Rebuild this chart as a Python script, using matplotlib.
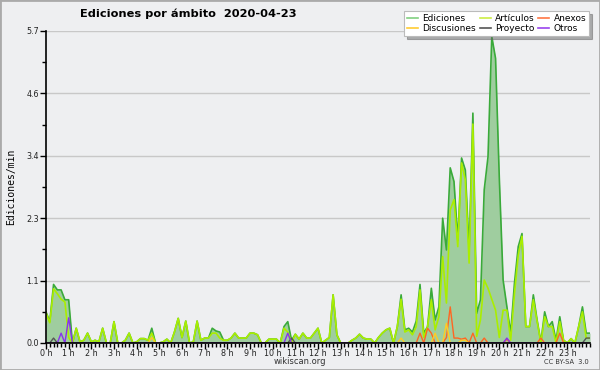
import matplotlib
matplotlib.use("Agg")
import matplotlib.pyplot as plt
from matplotlib.patches import Rectangle
from matplotlib.ticker import FixedLocator, MultipleLocator
import numpy as np

# edits per minute, 10-minute bins (6 per hour)
ediciones = [
    0.57, 0.39, 1.07, 0.97, 0.97, 0.79,
    0.79, 0.0, 0.27, 0.02, 0.05, 0.18,
    0.02, 0.05, 0.02, 0.27, 0.0, 0.0,
    0.39, 0.0, 0.0, 0.05, 0.18, 0.0,
    0.02, 0.08, 0.08, 0.05, 0.27, 0.0,
    0.0, 0.02, 0.07, 0.0, 0.2, 0.45,
    0.1, 0.4, 0.0, 0.02, 0.4, 0.05,
    0.09, 0.09, 0.27, 0.22, 0.2, 0.05,
    0.05, 0.09, 0.18, 0.09, 0.09, 0.09,
    0.18, 0.18, 0.15, 0.0, 0.0, 0.07,
    0.07, 0.07, 0.0, 0.3, 0.39, 0.05,
    0.16, 0.07, 0.18, 0.09, 0.09, 0.18,
    0.27, 0.0, 0.05, 0.1, 0.88, 0.15,
    0.0, 0.0, 0.0, 0.05, 0.09, 0.16,
    0.09, 0.07, 0.07, 0.0, 0.1, 0.18,
    0.24, 0.27, 0.0, 0.3, 0.88, 0.24,
    0.27, 0.2, 0.4, 1.07, 0.18, 0.3,
    1.0, 0.42, 0.66, 2.28, 1.7, 3.2,
    2.95, 1.88, 3.38, 3.16, 1.7, 4.2,
    0.54, 0.79, 2.8, 3.4, 5.6, 5.2,
    3.0, 1.15, 0.66, 0.18, 1.09, 1.76,
    2.0, 0.3, 0.3, 0.88, 0.42, 0.02,
    0.57, 0.3, 0.39, 0.05, 0.48, 0.05,
    0.0, 0.08, 0.0, 0.3, 0.66, 0.18,
]
articulos = [
    0.55, 0.37, 0.99, 0.9, 0.8, 0.75,
    0.1, 0.0, 0.27, 0.02, 0.05, 0.18,
    0.02, 0.05, 0.02, 0.27, 0.0, 0.0,
    0.39, 0.0, 0.0, 0.05, 0.18, 0.0,
    0.02, 0.08, 0.08, 0.05, 0.18, 0.0,
    0.0, 0.02, 0.07, 0.0, 0.2, 0.45,
    0.1, 0.4, 0.0, 0.02, 0.4, 0.05,
    0.09, 0.09, 0.18, 0.18, 0.09, 0.05,
    0.05, 0.09, 0.18, 0.09, 0.09, 0.09,
    0.18, 0.18, 0.15, 0.0, 0.0, 0.07,
    0.07, 0.07, 0.0, 0.27, 0.2, 0.0,
    0.16, 0.07, 0.18, 0.09, 0.09, 0.18,
    0.27, 0.0, 0.05, 0.1, 0.88, 0.15,
    0.0, 0.0, 0.0, 0.05, 0.09, 0.16,
    0.09, 0.07, 0.07, 0.0, 0.1, 0.18,
    0.24, 0.27, 0.0, 0.3, 0.8, 0.2,
    0.24, 0.15, 0.3, 0.97, 0.1, 0.3,
    0.79, 0.24, 0.48, 1.58, 0.73, 2.43,
    2.62, 1.76, 3.29, 2.98, 1.46, 4.0,
    0.12, 0.42, 1.15, 1.0, 0.8, 0.6,
    0.1, 0.6, 0.6, 0.05, 0.9, 1.6,
    1.95, 0.3, 0.3, 0.79, 0.4, 0.0,
    0.48, 0.3, 0.3, 0.0, 0.39, 0.05,
    0.0, 0.08, 0.0, 0.3, 0.57, 0.09,
]
# sparse series: bin index -> value
anexos = {99: 0.18, 101: 0.27, 102: 0.18, 106: 0.1, 107: 0.66, 108: 0.09,
          109: 0.09, 110: 0.07, 111: 0.09, 113: 0.18, 116: 0.09, 122: 0.07,
          131: 0.09, 136: 0.18}
discusiones = {28: 0.1, 94: 0.09, 103: 0.18, 106: 0.36, 110: 0.05, 111: 0.05}
proyecto = {2: 0.09, 65: 0.09, 143: 0.09}
otros = {4: 0.18, 6: 0.46, 64: 0.18, 122: 0.09}

hours = ["%d h" % h for h in range(24)]
ymax = 5.7
ytick_labels = ["0.0", "1.1", "2.3", "3.4", "4.6", "5.7"]

n = len(ediciones)


def full(series):
    arr = np.zeros(n)
    for k, v in series.items():
        arr[k] = v
    return arr


def held(arr):
    # last value held to the end of the day
    arr = np.asarray(arr, dtype=float)
    return np.append(arr, arr[-1])


x = np.arange(n + 1)
bg = "#eeeff1"

fig = plt.figure(figsize=(6, 3.7), dpi=100, facecolor=bg)
ax = fig.add_axes([46 / 600, 1 - 343 / 370, 544 / 600, 312 / 370])
ax.set_facecolor(bg)

ed = held(ediciones)
ax.fill_between(x, 0, ed, color="#9fcd9f", lw=0, zorder=2)
ax.plot(x, ed, color="#3aaa3a", lw=1.2, zorder=3)
ax.plot(x, held(articulos), color="#aaee00", lw=1.2, zorder=4)
ax.plot(x, held(full(anexos)), color="#ff6622", lw=1, zorder=5)
ax.plot(x, held(full(discusiones)), color="#ffcc22", lw=1, zorder=5)
ax.plot(x, held(full(proyecto)), color="#555555", lw=1, zorder=5)
ax.plot(x, held(full(otros)), color="#8833ee", lw=1, zorder=6)

ax.set_xlim(0, n)
ax.set_ylim(0, ymax)

yt = np.linspace(0, ymax, len(ytick_labels))
ax.yaxis.set_major_locator(FixedLocator(yt))
ax.yaxis.set_minor_locator(FixedLocator((yt[:-1] + yt[1:]) / 2))
ax.set_yticklabels(ytick_labels)
ax.xaxis.set_major_locator(FixedLocator(np.arange(0, n, 6)))
ax.xaxis.set_minor_locator(MultipleLocator(1))
ax.set_xticklabels(hours)

ax.tick_params(axis="both", which="major", length=4, width=1, color="black",
               labelsize=5.8, labelcolor="#222222")
ax.tick_params(axis="x", which="major", pad=0)
ax.tick_params(axis="y", which="major", pad=1)
ax.tick_params(axis="both", which="minor", length=3, width=1, color="black")

ax.grid(True, axis="y", color="#c8c8c8", lw=1, zorder=1)
for s in ["top", "right"]:
    ax.spines[s].set_visible(False)
for s in ["left", "bottom"]:
    ax.spines[s].set_linewidth(1.2)
    ax.spines[s].set_zorder(10)

ax.set_ylabel("Ediciones/min", fontsize=7, family="DejaVu Sans Mono", labelpad=7)

fig.text(188 / 600, 1 - 14 / 370, "Ediciones por ámbito  2020-04-23",
         ha="center", va="center", fontsize=8.2, fontweight="bold")
fig.text(300 / 600, 1 - 362 / 370, "wikiscan.org", ha="center", va="center",
         fontsize=6, color="#333333")
fig.text(589 / 600, 1 - 362 / 370, "CC BY-SA  3.0", ha="right", va="center",
         fontsize=4.8, color="#333333")

handles = [
    plt.Line2D([], [], color="#80d080", lw=1.2),
    plt.Line2D([], [], color="#ffcc33", lw=1.2),
    plt.Line2D([], [], color="#ccee44", lw=1.2),
    plt.Line2D([], [], color="#555555", lw=1.2),
    plt.Line2D([], [], color="#ff7744", lw=1.2),
    plt.Line2D([], [], color="#9944ee", lw=1.2),
]
labels = ["Ediciones", "Discusiones", "Artículos", "Proyecto", "Anexos", "Otros"]
leg = fig.legend(handles, labels, ncol=3, loc="upper left",
                 bbox_to_anchor=(404 / 600, 1 - 11 / 370), fontsize=6.5,
                 frameon=True, fancybox=False, shadow={"color": "#666666"},
                 framealpha=1, edgecolor="#bbbbbb", handlelength=1.2,
                 handletextpad=0.5, columnspacing=0.4, labelspacing=0.1,
                 borderpad=0.35, borderaxespad=0)
leg.get_frame().set_linewidth(0.8)

fig.patches.append(Rectangle((0, 0), 1, 1, transform=fig.transFigure,
                             fill=False, edgecolor="#aaaaaa", lw=2))

fig.savefig("out.png", dpi=100, facecolor=bg)
